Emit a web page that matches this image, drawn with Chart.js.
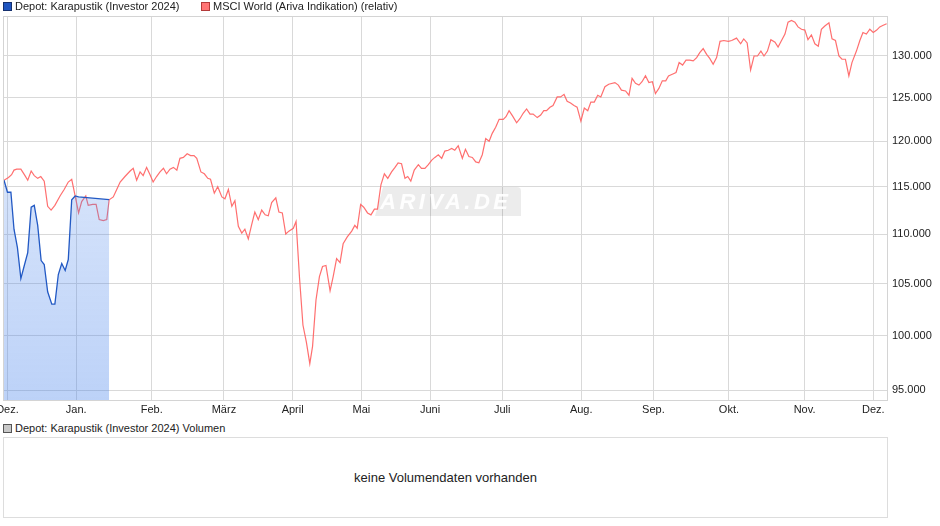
<!DOCTYPE html>
<html><head><meta charset="utf-8">
<script src="https://cdn.jsdelivr.net/npm/chart.js@4.4.1/dist/chart.umd.min.js"></script>
<style>
html,body{margin:0;padding:0;background:#fff;}
body{width:940px;height:526px;position:relative;overflow:hidden;font-family:"Liberation Sans",Arial,sans-serif;color:#222;}
.lg{position:absolute;font-size:11px;line-height:13px;white-space:nowrap;}
.sq{position:absolute;width:7px;height:7px;border:1px solid;}
#wrap{position:absolute;left:0;top:0;width:940px;height:420px;}
#vol{position:absolute;left:3px;top:437px;width:883px;height:79px;border:1px solid #ddd;}
#vol span{position:absolute;left:0;right:0;top:32px;text-align:center;font-size:13px;line-height:15px;color:#222;}
</style></head>
<body>
<div id="wrap"><canvas id="c" width="940" height="420"></canvas></div>
<div class="sq" style="left:3px;top:2px;background:#1f55c0;border-color:#15306e;"></div>
<div class="lg" style="left:15px;top:0px;">Depot: Karapustik (Investor 2024)</div>
<div class="sq" style="left:201px;top:2px;background:#ff7474;border-color:#b33a3a;"></div>
<div class="lg" style="left:213px;top:0px;">MSCI World (Ariva Indikation) (relativ)</div>
<div class="sq" style="left:3px;top:424px;background:#c8c8c8;border-color:#555;"></div>
<div class="lg" style="left:15px;top:422px;">Depot: Karapustik (Investor 2024) Volumen</div>
<div id="vol"><span>keine Volumendaten vorhanden</span></div>
<script>
// Month labels and the trading-day index at which each month starts
const monthLabels = ['Dez.','Jan.','Feb.','März','April','Mai','Juni','Juli','Aug.','Sep.','Okt.','Nov.','Dez.'];
const monthStart = [1,21,43,64,84,104,124,145,168,189,211,233,253];
const yTicks = [95,100,105,110,115,120,125,130];

// Depot: Karapustik (Investor 2024)
const depotDay = [0.0,1.0,2.0,2.9,3.9,4.9,5.9,6.9,7.9,8.8,9.8,10.8,11.7,12.7,13.9,14.8,15.8,16.8,17.8,18.7,19.7,20.7,21.7,30.6];
const depotVal = [115.7,114.4,114.4,110.5,108.6,105.5,106.8,108.1,112.8,113.0,110.9,107.3,106.9,104.2,103.0,103.0,105.9,107.0,106.3,107.4,113.6,114.0,113.9,113.6];

// MSCI World (Ariva Indikation) (relativ)
const msciDay = [0.0,1.3,2.2,2.9,3.7,4.9,6.1,6.9,7.9,8.8,9.8,10.7,11.7,12.7,13.7,14.8,16.3,17.5,18.7,19.7,
20.7,21.7,22.6,23.8,24.5,25.8,26.8,27.7,28.9,29.9,30.6,31.8,32.8,33.8,35.2,36.7,37.6,38.6,39.6,40.5,
41.5,42.5,43.4,44.4,45.4,46.4,47.3,48.3,49.3,50.3,51.2,52.2,53.3,54.3,55.3,56.1,57.3,58.3,59.3,60.1,
61.2,62.2,63.4,64.3,65.3,66.3,67.2,68.2,69.2,70.1,71.1,72.1,73.0,74.0,75.0,76.0,76.9,77.9,79.1,80.0,
81.0,82.0,82.9,84.2,85.0,86.0,87.0,88.0,89.0,89.8,90.8,91.8,92.7,93.7,94.9,95.8,96.8,97.8,98.7,99.9,
101.2,102.1,102.8,103.8,104.7,105.8,106.8,107.8,108.7,109.7,110.7,111.7,112.8,113.8,114.7,115.7,116.7,117.5,118.4,119.4,
120.6,121.5,122.5,123.5,124.5,125.4,126.4,127.4,128.3,129.3,130.3,131.2,132.2,133.4,134.3,135.3,136.3,137.3,138.2,139.2,
140.2,141.2,142.1,143.1,144.1,145.3,146.1,147.0,148.0,149.2,150.2,151.1,152.1,153.1,154.0,155.2,156.2,157.1,157.9,158.9,
159.8,161.0,162.0,163.0,163.9,164.9,165.9,166.8,167.9,168.9,169.9,170.8,171.8,172.8,173.7,174.9,176.0,177.8,178.8,179.7,
180.9,181.9,182.8,183.8,184.8,185.7,186.7,187.7,188.7,189.6,190.6,191.6,192.6,193.4,194.5,195.6,196.5,197.5,198.5,199.6,
200.6,201.6,202.5,203.5,204.5,205.4,206.4,207.4,208.4,209.5,210.8,211.8,213.2,214.4,215.3,216.3,217.3,218.3,219.3,220.3,
221.2,222.2,223.2,224.4,225.3,226.3,227.3,228.2,229.2,230.2,231.1,232.1,233.1,234.0,235.0,236.0,237.0,237.9,238.9,240.1,
241.0,242.0,243.0,243.9,244.9,245.9,246.8,248.1,249.1,250.0,251.0,252.0,253.0,254.0,254.9,255.9,256.9];
const msciVal = [115.7,116.0,116.3,116.8,116.9,116.9,116.2,115.7,116.7,116.2,115.9,116.1,115.6,112.9,112.5,113.0,114.0,114.7,115.5,115.8,
114.0,112.2,113.4,114.0,113.0,113.1,113.1,111.5,111.4,111.5,113.6,113.9,114.7,115.5,116.1,116.7,117.0,115.7,116.6,116.2,
117.1,116.3,115.5,116.1,116.6,117.0,116.4,116.9,117.1,116.8,118.1,118.2,118.6,118.4,118.4,118.1,116.6,116.4,115.9,115.8,
114.3,115.0,113.9,113.7,114.7,112.9,113.5,110.8,110.1,110.5,109.5,111.0,112.3,111.5,112.5,112.0,111.9,113.3,113.8,112.3,
112.2,110.0,110.3,110.6,111.3,105.6,101.0,99.4,97.4,99.0,103.4,105.7,106.7,106.8,104.3,105.7,107.5,107.1,109.0,109.7,
110.3,110.9,110.6,113.1,112.8,112.2,112.0,112.6,112.6,115.2,116.4,115.9,116.6,117.1,117.6,117.5,115.9,116.1,115.6,116.8,
117.4,117.0,117.0,117.4,117.9,118.2,118.5,118.1,118.9,119.0,119.2,119.0,119.5,118.1,119.1,118.3,118.2,117.7,117.6,118.5,
120.3,120.0,120.9,121.6,122.5,122.5,122.8,123.5,122.9,122.1,122.6,123.2,123.7,123.1,123.1,122.7,123.0,123.5,123.5,123.9,
124.1,125.1,125.1,125.4,124.6,124.4,124.1,123.9,122.3,123.8,123.5,124.5,124.5,125.3,125.1,126.3,126.6,126.8,126.5,125.9,
125.8,125.3,127.3,126.7,126.5,126.9,127.6,126.8,126.9,125.5,126.1,127.0,127.0,127.6,127.8,128.0,129.2,128.9,129.5,129.5,
129.4,129.8,130.4,130.9,130.2,129.7,129.0,129.8,131.8,131.9,131.8,131.9,132.2,131.5,132.1,131.6,128.3,130.0,130.0,130.6,
130.0,130.6,132.0,131.7,131.1,131.9,132.7,134.2,134.4,134.2,133.6,133.3,133.2,132.0,132.6,131.5,131.2,133.3,133.7,134.1,
132.1,131.9,130.0,129.6,129.6,127.6,129.2,130.6,131.9,132.9,132.7,133.3,132.9,133.2,133.6,133.8,134.0];

const toPoints = (xs, ys) => xs.map((x, i) => ({x: x, y: ys[i]}));

const FONT = {family: '"Liberation Sans", Arial, sans-serif', size: 11};

const framePlugin = {
  id: 'frame',
  beforeDatasetsDraw(chart) {
    const ctx = chart.ctx;
    ctx.save();
    // ARIVA.DE watermark
    const x0 = 375, y0 = 187, w = 146, h = 29;
    ctx.fillStyle = 'rgba(0,0,0,0.075)';
    ctx.beginPath();
    ctx.moveTo(x0 + 8, y0);
    ctx.lineTo(x0 + w - 4, y0);
    ctx.quadraticCurveTo(x0 + w, y0, x0 + w, y0 + 4);
    ctx.lineTo(x0 + w, y0 + h);
    ctx.lineTo(x0, y0 + h);
    ctx.closePath();
    ctx.fill();
    ctx.fillStyle = 'rgba(255,255,255,0.95)';
    ctx.font = 'italic bold 22px "Liberation Sans", Arial, sans-serif';
    try { ctx.letterSpacing = '3.5px'; } catch (e) {}
    ctx.textBaseline = 'middle';
    ctx.textAlign = 'left';
    ctx.fillText('ARIVA.DE', x0 + 5, y0 + h / 2 + 1);
    ctx.restore();
  },
  afterDraw(chart) {
    const a = chart.chartArea, ctx = chart.ctx;
    ctx.save();
    ctx.strokeStyle = '#d4d4d4';
    ctx.lineWidth = 1;
    const l = Math.round(a.left) + 0.5, r = Math.round(a.right) + 0.5;
    const t = Math.round(a.top) + 0.5, b = Math.round(a.bottom) + 0.5;
    ctx.strokeRect(l, t, r - l, b - t);
    ctx.restore();
  }
};

new Chart(document.getElementById('c'), {
  type: 'line',
  data: {
    datasets: [
      {
        label: 'Depot: Karapustik (Investor 2024)',
        data: toPoints(depotDay, depotVal),
        borderColor: '#2259c4',
        borderWidth: 1.3,
        pointRadius: 0,
        tension: 0,
        fill: 'start',
        backgroundColor: (c) => {
          const a = c.chart.chartArea;
          if (!a) return 'rgba(70,130,235,0.25)';
          const g = c.chart.ctx.createLinearGradient(0, a.top, 0, a.bottom);
          g.addColorStop(0, 'rgba(70,130,235,0.12)');
          g.addColorStop(1, 'rgba(70,130,235,0.36)');
          return g;
        }
      },
      {
        label: 'MSCI World (Ariva Indikation) (relativ)',
        data: toPoints(msciDay, msciVal),
        borderColor: 'rgba(255,95,95,0.9)',
        borderWidth: 1.2,
        pointRadius: 0,
        tension: 0,
        fill: false
      }
    ]
  },
  options: {
    responsive: false,
    animation: false,
    events: [],
    devicePixelRatio: 1,
    layout: {padding: {left: 3, top: 16, right: 0, bottom: 0}},
    plugins: {legend: {display: false}, tooltip: {enabled: false}},
    scales: {
      x: {
        type: 'linear',
        min: -0.3,
        max: 257.0,
        afterBuildTicks: (s) => { s.ticks = monthStart.map(v => ({value: v})); },
        afterFit: (s) => { s.height = 20; s.paddingLeft = 0; s.paddingRight = 0; },
        grid: {color: '#d9d9d9', lineWidth: 1, drawTicks: false},
        border: {display: false},
        ticks: {
          autoSkip: false, maxRotation: 0, padding: 3, color: '#222', font: FONT,
          callback: (v, i) => monthLabels[i]
        }
      },
      y: {
        type: 'logarithmic',
        position: 'right',
        min: 94.14,
        max: 134.97,
        afterBuildTicks: (s) => { s.ticks = yTicks.map(v => ({value: v})); },
        afterFit: (s) => { s.width = 53; s.paddingTop = 0; s.paddingBottom = 0; },
        grid: {color: '#d9d9d9', lineWidth: 1, drawTicks: false},
        border: {display: false},
        ticks: {
          padding: 5, color: '#222', font: FONT,
          callback: (v) => Number(v).toFixed(3)
        }
      }
    }
  },
  plugins: [framePlugin]
});
</script>
</body></html>
